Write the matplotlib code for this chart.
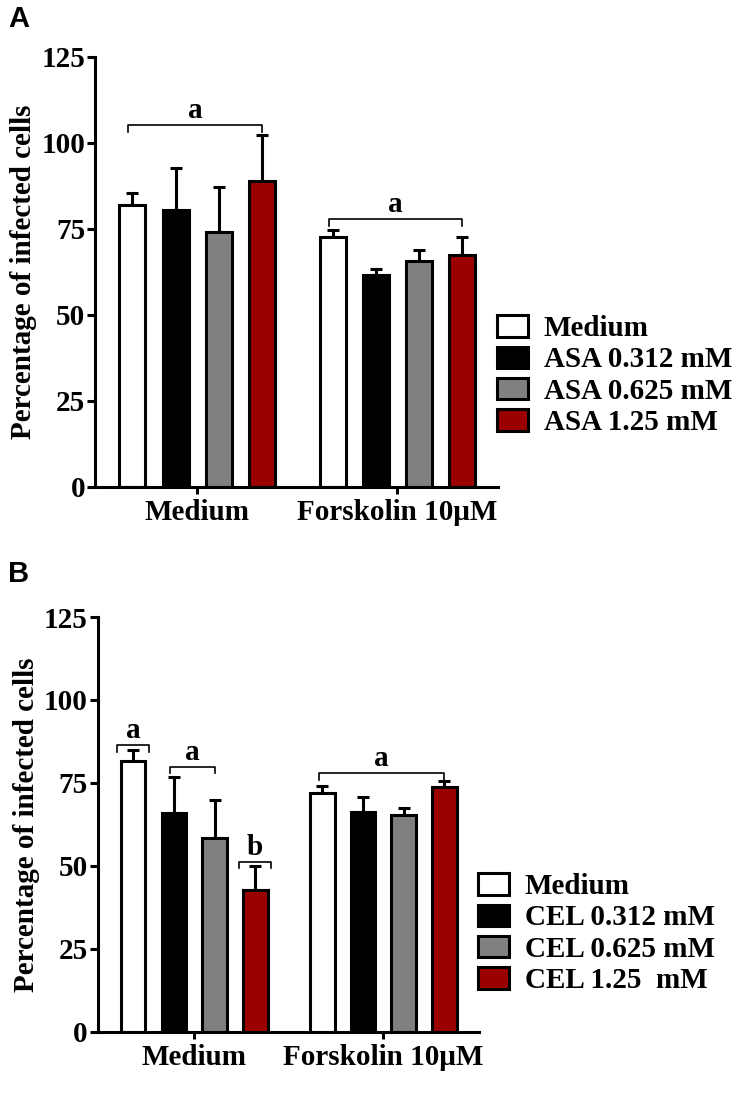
import numpy as np
import matplotlib.pyplot as plt
from matplotlib.patches import Patch

plt.rcParams['font.family'] = ['Liberation Serif', 'DejaVu Serif']
plt.rcParams['font.weight'] = 'bold'

groups = ['Medium', 'Forskolin 10\u03bcM']
colors = ['white', 'black', '#808080', '#9b0000']

# panel A - aspirin
asa_labels = ['Medium', 'ASA 0.312 mM', 'ASA 0.625 mM', 'ASA 1.25 mM']
asa_mean = [[82.0, 80.5, 74.0, 88.8],
            [72.6, 61.6, 65.7, 67.4]]
asa_sem = [[3.5, 12.2, 13.3, 13.5],
           [2.1, 1.7, 3.2, 5.2]]
# (group, first bar, last bar, height, letter)
asa_brackets = [(0, 0, 3, 105.2, 'a'),
                (1, 0, 3, 77.9, 'a')]

# panel B - celecoxib
cel_labels = ['Medium', 'CEL 0.312 mM', 'CEL 0.625 mM', 'CEL 1.25  mM']
cel_mean = [[81.6, 66.0, 58.5, 42.7],
            [72.1, 66.1, 65.3, 73.7]]
cel_sem = [[3.3, 10.9, 11.3, 7.3],
           [2.0, 4.6, 2.0, 2.0]]
cel_brackets = [(0, 0, 0, 86.4, 'a'),
                (0, 1, 2, 79.9, 'a'),
                (0, 3, 3, 51.3, 'b'),
                (1, 0, 3, 77.9, 'a')]

offsets = np.array([-0.3225, -0.1075, 0.1075, 0.3225])
bar_w = 0.13
lw = 2.2

fig = plt.figure(figsize=(7.41, 11.01), dpi=100)
ax_a = fig.add_axes([0.1282, 0.5577, 0.5439, 0.3906])
ax_b = fig.add_axes([0.1318, 0.0629, 0.5146, 0.3767])

panels = [(ax_a, asa_labels, asa_mean, asa_sem, asa_brackets, (497, 315)),
          (ax_b, cel_labels, cel_mean, cel_sem, cel_brackets, (478, 873))]

for ax, labels, mean, sem, brackets, leg_xy in panels:
    x = np.arange(len(groups))
    mean = np.array(mean)
    sem = np.array(sem)
    for i in range(len(labels)):
        xs = x + offsets[i]
        ax.errorbar(xs, mean[:, i], yerr=[np.zeros(len(groups)), sem[:, i]],
                    fmt='none', ecolor='black', elinewidth=lw, capsize=4.3,
                    capthick=lw, zorder=1)
        ax.bar(xs, mean[:, i], width=bar_w, color=colors[i], edgecolor='black',
               linewidth=lw, zorder=2, label=labels[i])

    # significance brackets
    for g, b0, b1, h, letter in brackets:
        if b0 == b1:
            x0 = g + offsets[b0] - 0.085
            x1 = g + offsets[b1] + 0.085
        else:
            x0 = g + offsets[b0] - 0.02
            x1 = g + offsets[b1]
        ax.plot([x0, x0, x1, x1], [h - 2.0, h, h, h - 2.0], color='black', lw=1.2, zorder=3)
        ax.text((x0 + x1) / 2, h + 0.3, letter, ha='center', va='bottom',
                fontsize=21, fontweight='bold')

    ax.set_xlim(-0.51, 1.505)
    ax.set_ylim(0, 125)
    ax.set_yticks([0, 25, 50, 75, 100, 125])
    ax.set_xticks(x)
    ax.set_xticklabels(groups)
    ax.spines['top'].set_visible(False)
    ax.spines['right'].set_visible(False)
    ax.spines['left'].set_linewidth(lw)
    ax.spines['bottom'].set_linewidth(lw)
    ax.tick_params(axis='y', length=6, width=lw, labelsize=21, pad=1)
    ax.tick_params(axis='x', length=5, width=lw, labelsize=21, pad=4)
    ax.set_ylabel('Percentage of infected cells', fontsize=21, fontweight='bold', labelpad=3)

    handles = [Patch(facecolor=c, edgecolor='black', linewidth=lw) for c in colors]
    fig.legend(handles, labels, loc='upper left',
               bbox_to_anchor=(leg_xy[0] / 741, 1 - leg_xy[1] / 1101),
               frameon=False, fontsize=21, borderpad=0, borderaxespad=0,
               handlelength=1.05, handleheight=0.75, handletextpad=0.55,
               labelspacing=0.15)

fig.text(8 / 741, 1 - 5 / 1101, 'A', family='Liberation Sans', fontsize=21,
         fontweight='bold', va='top', ha='left')
fig.text(8 / 741, 1 - 560 / 1101, 'B', family='Liberation Sans', fontsize=21,
         fontweight='bold', va='top', ha='left')

plt.savefig('out.png', dpi=100)
